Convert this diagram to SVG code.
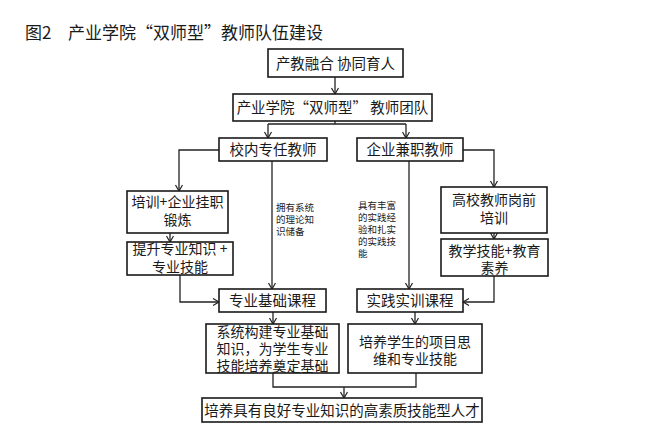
<svg xmlns="http://www.w3.org/2000/svg" width="646" height="443" viewBox="0 0 646 443">
<defs>
<marker id="arr" markerUnits="userSpaceOnUse" markerWidth="10" markerHeight="10" refX="7" refY="4" orient="auto">
<path d="M1,0.5 L7,4 L1,7.5" fill="none" stroke="#222" stroke-width="1.2"/>
</marker>
<style>
.box{fill:#fff;stroke:#1a1a1a;stroke-width:1.6}
.t{font-family:"Noto Sans CJK SC","Noto Sans",sans-serif;font-size:14.5px;fill:#1a1a1a;text-anchor:middle}
.m{font-size:14px}
.s{font-family:"Noto Sans CJK SC","Noto Sans",sans-serif;font-size:9.5px;fill:#1a1a1a}
.title{font-family:"Noto Sans CJK SC","Noto Sans",sans-serif;font-size:17px;fill:#1a1a1a}
.c{fill:none;stroke:#222;stroke-width:1.3}
.ca{fill:none;stroke:#222;stroke-width:1.3;marker-end:url(#arr)}
</style>
</defs>
<rect width="646" height="443" fill="#fff"/>
<g id="title">
<text class="title" x="25" y="39">图2</text>
<text class="title" x="68" y="39">产业学院“双师型”教师队伍建设</text>
</g>
<g id="connectors">
<path class="ca" d="M335,77 V94"/>
<path class="c" d="M335,121 V124 M268,124 H406"/>
<path class="ca" d="M268,124 V138"/>
<path class="ca" d="M406,124 V138"/>
<path class="ca" d="M219,150 H179 V191"/>
<path class="ca" d="M170,233 V242"/>
<path class="ca" d="M180,275 V302 H219"/>
<path class="ca" d="M272,161 V289"/>
<path class="ca" d="M409,161 V289"/>
<path class="ca" d="M463,150 H494 V187"/>
<path class="ca" d="M494,233 V239"/>
<path class="ca" d="M494,276 V302 H463"/>
<path class="ca" d="M273,312 V324"/>
<path class="ca" d="M415,312 V324"/>
<path class="c" d="M273,373 V387 H416 V373"/>
<path class="ca" d="M344,387 V398"/>
<text class="s" x="276" y="210.5">拥有系统<tspan x="276" dy="12">的理论知</tspan><tspan x="276" dy="12">识储备</tspan></text>
<text class="s" x="358" y="208.5">具有丰富<tspan x="358" dy="12">的实践经</tspan><tspan x="358" dy="12">验和扎实</tspan><tspan x="358" dy="12">的实践技</tspan><tspan x="358" dy="12">能</tspan></text>
</g>
<g id="n1"><rect class="box" x="268" y="49" width="135" height="28"/><text class="t" x="335.5" y="68.5">产教融合 协同育人</text></g>
<g id="n2"><rect class="box" x="233" y="94" width="199" height="27"/><text class="t" x="332.5" y="113">产业学院“双师型” 教师团队</text></g>
<g id="n3"><rect class="box" x="219" y="138" width="108" height="23"/><text class="t" x="273" y="155">校内专任教师</text></g>
<g id="n4"><rect class="box" x="357" y="138" width="106" height="23"/><text class="t" x="410" y="155">企业兼职教师</text></g>
<g id="n5"><rect class="box" x="127" y="191" width="101" height="42"/><text class="t m" x="177.5" y="207">培训+企业挂职<tspan x="177.5" dy="17.5">锻炼</tspan></text></g>
<g id="n6"><rect class="box" x="127" y="242" width="106" height="33"/><text class="t m" x="180" y="254">提升专业知识 +<tspan x="180" dy="17.5">专业技能</tspan></text></g>
<g id="n7"><rect class="box" x="441" y="187" width="106" height="46"/><text class="t m" x="494" y="205">高校教师岗前<tspan x="494" dy="18">培训</tspan></text></g>
<g id="n8"><rect class="box" x="441" y="239" width="107" height="37"/><text class="t m" x="494.5" y="256">教学技能+教育<tspan x="494.5" dy="17.2">素养</tspan></text></g>
<g id="n9"><rect class="box" x="219" y="289" width="107" height="23"/><text class="t" x="272.5" y="306">专业基础课程</text></g>
<g id="n10"><rect class="box" x="357" y="289" width="106" height="23"/><text class="t" x="410" y="306">实践实训课程</text></g>
<g id="n11"><rect class="box" x="206" y="324" width="133" height="49"/><text class="t m" x="272.5" y="336.8">系统构建专业基础<tspan x="272.5" dy="17.2">知识，为学生专业</tspan><tspan x="272.5" dy="17.2">技能培养奠定基础</tspan></text></g>
<g id="n12"><rect class="box" x="348" y="324" width="134" height="49"/><text class="t m" x="415" y="347">培养学生的项目思<tspan x="415" dy="17.2">维和专业技能</tspan></text></g>
<g id="n13"><rect class="box" x="202" y="398" width="280" height="24"/><text class="t" x="342" y="415.5">培养具有良好专业知识的高素质技能型人才</text></g>
</svg>
